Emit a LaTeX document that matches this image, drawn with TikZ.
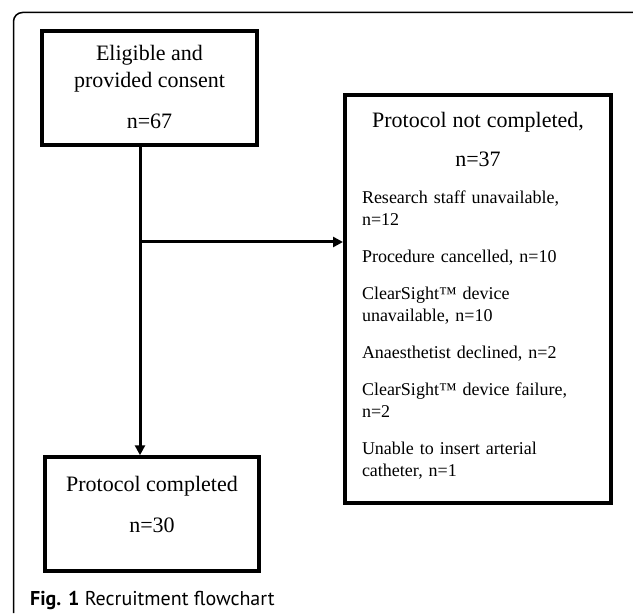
\documentclass[tikz,border=0pt]{standalone}
\usepackage{fontspec}
\setmainfont{Liberation Serif}
\newfontfamily\capfont{PT Sans}
\usetikzlibrary{arrows.meta}
\tikzset{
  box/.style={draw, line width=4pt, fill=white, inner sep=0pt, align=center, font=\fontsize{22}{27}\selectfont},
  flow/.style={line width=3pt, -{Triangle[length=10pt,width=10pt]}},
  frame/.style={line width=1.5pt, rounded corners=9pt}
}
\begin{document}
\begin{tikzpicture}[x=1pt,y=-1pt]
		%%%%% START %%%%%
		\useasboundingbox (0,0) rectangle (633,615);
		\draw[frame] (13.5,613) -- (13.5,12.5) -- (633,12.5);
		
		\node[box, minimum width=215pt, minimum height=114pt] (consent) at (149.5,88) {Eligible and\\provided consent\\[14pt]n=67\rule[-3pt]{0pt}{3pt}};
		\node[box, minimum width=214pt, minimum height=114pt, line width=3.5pt] (completed) at (152,514) {Protocol completed\\[14pt]n=30\rule[-19pt]{0pt}{19pt}};
		\node[box, minimum width=266pt, minimum height=408pt, text width=232pt, align=left, font=\fontsize{18}{22}\selectfont] (notcompleted) at (478,299) {\setlength{\parindent}{0pt}%
			{\centering\fontsize{22}{27}\selectfont Protocol not completed,\\[12pt]n=37\par}
			\vspace{15pt}
			Research staff unavailable,\\n=12\par\vspace{15pt}
			Procedure cancelled, n=10\par\vspace{15pt}
			ClearSight™ device\\unavailable, n=10\par\vspace{15pt}
			Anaesthetist declined, n=2\par\vspace{15pt}
			ClearSight™ device failure,\\n=2\par\vspace{15pt}
			Unable to insert arterial\\catheter, n=1\rule[-10pt]{0pt}{10pt}};
		
		\coordinate (split) at (140,242);
		\draw[flow] (split |- consent.south) -- (split |- completed.north);
		\draw[flow] (split) -- (split -| notcompleted.west);
		
		\node[anchor=base west, inner sep=0pt, font=\capfont\fontsize{20}{24}\selectfont] (caption) at (30,605) {\textbf{Fig. 1} Recruitment flowchart};
		%%%%% END %%%%%
\end{tikzpicture}
\end{document}
